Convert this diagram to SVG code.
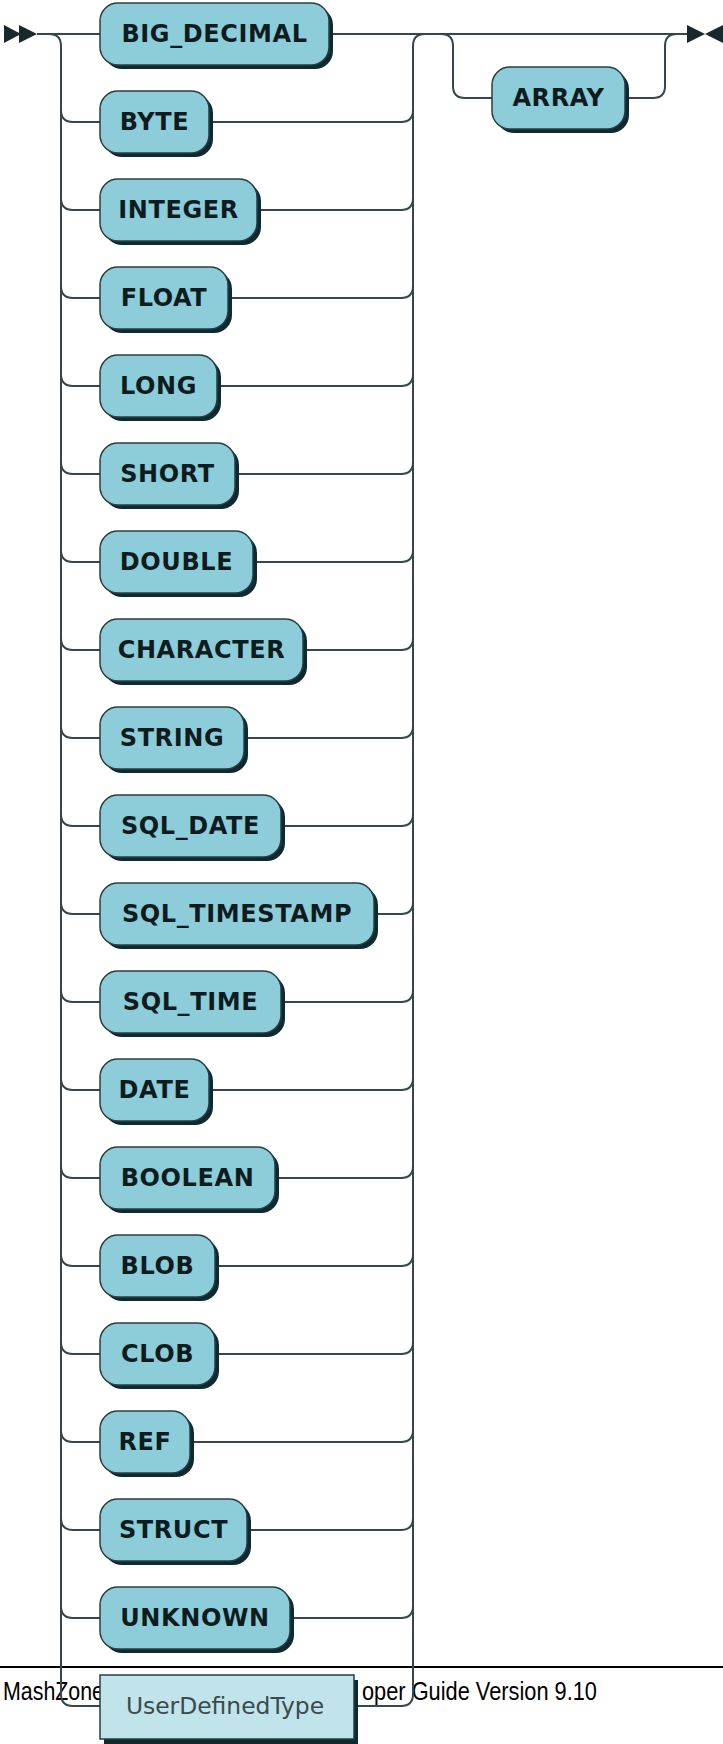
<svg xmlns="http://www.w3.org/2000/svg" width="723" height="1744" viewBox="0 0 723 1744">
<style>
.bg{fill:#ffffff}
.ln{fill:none;stroke:#34474b;stroke-width:2}
.sh{fill:#10292e}
.bx{fill:#8dcdda;stroke:#263f44;stroke-width:1.5}
.bx2{fill:#c0e4ea;stroke:#263f44;stroke-width:1.5}
.t{font-family:"DejaVu Sans",Verdana,sans-serif;font-weight:bold;font-size:24px;letter-spacing:0.6px;fill:#0e1c20;text-anchor:middle}
.t2{font-family:"DejaVu Sans",Verdana,sans-serif;font-size:23.4px;fill:#3b4a4e;text-anchor:middle}
.ft{font-family:"Liberation Sans",Arial,sans-serif;font-size:25px;fill:#000000}
.ar{fill:#17292d}
</style>
<rect class="bg" x="0" y="0" width="723" height="1744"/>
<g id="footer">
<line x1="0" y1="1667" x2="723" y2="1667" stroke="#000" stroke-width="2"/>
<text class="ft" x="3" y="1700" textLength="101" lengthAdjust="spacingAndGlyphs">MashZone</text>
<text class="ft" x="362" y="1700" textLength="235" lengthAdjust="spacingAndGlyphs">oper Guide Version 9.10</text>
</g>
<g id="connectors">
<path class="ln" d="M37,34 L100,34"/>
<path class="ln" d="M329,34 L688,34"/>
<path class="ln" d="M49,34 Q61,34 61,46 L61,1694 Q61,1706 73,1706 L100,1706"/>
<path class="ln" d="M413,1694 L413,46 Q413,34 425,34"/>
<path class="ln" d="M441,34 Q453,34 453,46 L453,86 Q453,98 465,98 L492,98"/>
<path class="ln" d="M625,98 L653,98 Q665,98 665,86 L665,46 Q665,34 677,34"/>
<path class="ln" d="M61,110 Q61,122 73,122 L100,122 M209,122 L401,122 Q413,122 413,110"/>
<path class="ln" d="M61,198 Q61,210 73,210 L100,210 M257,210 L401,210 Q413,210 413,198"/>
<path class="ln" d="M61,286 Q61,298 73,298 L100,298 M228,298 L401,298 Q413,298 413,286"/>
<path class="ln" d="M61,374 Q61,386 73,386 L100,386 M217,386 L401,386 Q413,386 413,374"/>
<path class="ln" d="M61,462 Q61,474 73,474 L100,474 M235,474 L401,474 Q413,474 413,462"/>
<path class="ln" d="M61,550 Q61,562 73,562 L100,562 M253,562 L401,562 Q413,562 413,550"/>
<path class="ln" d="M61,638 Q61,650 73,650 L100,650 M303,650 L401,650 Q413,650 413,638"/>
<path class="ln" d="M61,726 Q61,738 73,738 L100,738 M244,738 L401,738 Q413,738 413,726"/>
<path class="ln" d="M61,814 Q61,826 73,826 L100,826 M281,826 L401,826 Q413,826 413,814"/>
<path class="ln" d="M61,902 Q61,914 73,914 L100,914 M374,914 L401,914 Q413,914 413,902"/>
<path class="ln" d="M61,990 Q61,1002 73,1002 L100,1002 M281,1002 L401,1002 Q413,1002 413,990"/>
<path class="ln" d="M61,1078 Q61,1090 73,1090 L100,1090 M209,1090 L401,1090 Q413,1090 413,1078"/>
<path class="ln" d="M61,1166 Q61,1178 73,1178 L100,1178 M275,1178 L401,1178 Q413,1178 413,1166"/>
<path class="ln" d="M61,1254 Q61,1266 73,1266 L100,1266 M215,1266 L401,1266 Q413,1266 413,1254"/>
<path class="ln" d="M61,1342 Q61,1354 73,1354 L100,1354 M215,1354 L401,1354 Q413,1354 413,1342"/>
<path class="ln" d="M61,1430 Q61,1442 73,1442 L100,1442 M190,1442 L401,1442 Q413,1442 413,1430"/>
<path class="ln" d="M61,1518 Q61,1530 73,1530 L100,1530 M247,1530 L401,1530 Q413,1530 413,1518"/>
<path class="ln" d="M61,1606 Q61,1618 73,1618 L100,1618 M290,1618 L401,1618 Q413,1618 413,1606"/>
<path class="ln" d="M352,1706 L401,1706 Q413,1706 413,1694"/>
</g>
<g id="start">
<polygon class="ar" points="4,25 21,34 4,43"/>
<polygon class="ar" points="19,25 37,34 19,43"/>
</g>
<g id="end">
<polygon class="ar" points="687,25 705,34 687,43"/>
<polygon class="ar" points="723,25 705,34 723,43"/>
</g>
<g id="n_BIG_DECIMAL"><rect class="sh" x="104" y="7" width="229" height="62" rx="18"/><rect class="bx" x="100" y="3" width="229" height="62" rx="18"/><text class="t" x="214.5" y="42">BIG_DECIMAL</text></g>
<g id="n_BYTE"><rect class="sh" x="104" y="95" width="109" height="62" rx="18"/><rect class="bx" x="100" y="91" width="109" height="62" rx="18"/><text class="t" x="154.5" y="130">BYTE</text></g>
<g id="n_INTEGER"><rect class="sh" x="104" y="183" width="157" height="62" rx="18"/><rect class="bx" x="100" y="179" width="157" height="62" rx="18"/><text class="t" x="178.5" y="218">INTEGER</text></g>
<g id="n_FLOAT"><rect class="sh" x="104" y="271" width="128" height="62" rx="18"/><rect class="bx" x="100" y="267" width="128" height="62" rx="18"/><text class="t" x="164" y="306">FLOAT</text></g>
<g id="n_LONG"><rect class="sh" x="104" y="359" width="117" height="62" rx="18"/><rect class="bx" x="100" y="355" width="117" height="62" rx="18"/><text class="t" x="158.5" y="394">LONG</text></g>
<g id="n_SHORT"><rect class="sh" x="104" y="447" width="135" height="62" rx="18"/><rect class="bx" x="100" y="443" width="135" height="62" rx="18"/><text class="t" x="167.5" y="482">SHORT</text></g>
<g id="n_DOUBLE"><rect class="sh" x="104" y="535" width="153" height="62" rx="18"/><rect class="bx" x="100" y="531" width="153" height="62" rx="18"/><text class="t" x="176.5" y="570">DOUBLE</text></g>
<g id="n_CHARACTER"><rect class="sh" x="104" y="623" width="203" height="62" rx="18"/><rect class="bx" x="100" y="619" width="203" height="62" rx="18"/><text class="t" x="201.5" y="658">CHARACTER</text></g>
<g id="n_STRING"><rect class="sh" x="104" y="711" width="144" height="62" rx="18"/><rect class="bx" x="100" y="707" width="144" height="62" rx="18"/><text class="t" x="172" y="746">STRING</text></g>
<g id="n_SQL_DATE"><rect class="sh" x="104" y="799" width="181" height="62" rx="18"/><rect class="bx" x="100" y="795" width="181" height="62" rx="18"/><text class="t" x="190.5" y="834">SQL_DATE</text></g>
<g id="n_SQL_TIMESTAMP"><rect class="sh" x="104" y="887" width="274" height="62" rx="18"/><rect class="bx" x="100" y="883" width="274" height="62" rx="18"/><text class="t" x="237" y="922">SQL_TIMESTAMP</text></g>
<g id="n_SQL_TIME"><rect class="sh" x="104" y="975" width="181" height="62" rx="18"/><rect class="bx" x="100" y="971" width="181" height="62" rx="18"/><text class="t" x="190.5" y="1010">SQL_TIME</text></g>
<g id="n_DATE"><rect class="sh" x="104" y="1063" width="109" height="62" rx="18"/><rect class="bx" x="100" y="1059" width="109" height="62" rx="18"/><text class="t" x="154.5" y="1098">DATE</text></g>
<g id="n_BOOLEAN"><rect class="sh" x="104" y="1151" width="175" height="62" rx="18"/><rect class="bx" x="100" y="1147" width="175" height="62" rx="18"/><text class="t" x="187.5" y="1186">BOOLEAN</text></g>
<g id="n_BLOB"><rect class="sh" x="104" y="1239" width="115" height="62" rx="18"/><rect class="bx" x="100" y="1235" width="115" height="62" rx="18"/><text class="t" x="157.5" y="1274">BLOB</text></g>
<g id="n_CLOB"><rect class="sh" x="104" y="1327" width="115" height="62" rx="18"/><rect class="bx" x="100" y="1323" width="115" height="62" rx="18"/><text class="t" x="157.5" y="1362">CLOB</text></g>
<g id="n_REF"><rect class="sh" x="104" y="1415" width="90" height="62" rx="18"/><rect class="bx" x="100" y="1411" width="90" height="62" rx="18"/><text class="t" x="145" y="1450">REF</text></g>
<g id="n_STRUCT"><rect class="sh" x="104" y="1503" width="147" height="62" rx="18"/><rect class="bx" x="100" y="1499" width="147" height="62" rx="18"/><text class="t" x="173.5" y="1538">STRUCT</text></g>
<g id="n_UNKNOWN"><rect class="sh" x="104" y="1591" width="190" height="62" rx="18"/><rect class="bx" x="100" y="1587" width="190" height="62" rx="18"/><text class="t" x="195" y="1626">UNKNOWN</text></g>
<g id="n_ARRAY"><rect class="sh" x="496" y="71" width="133" height="62" rx="18"/><rect class="bx" x="492" y="67" width="133" height="62" rx="18"/><text class="t" x="558.5" y="106">ARRAY</text></g>
<g id="n_UserDefinedType"><rect class="sh" x="104" y="1680" width="254" height="64"/><rect class="bx2" x="100" y="1675" width="254" height="64"/><text class="t2" x="225" y="1714">UserDefinedType</text></g>
</svg>
